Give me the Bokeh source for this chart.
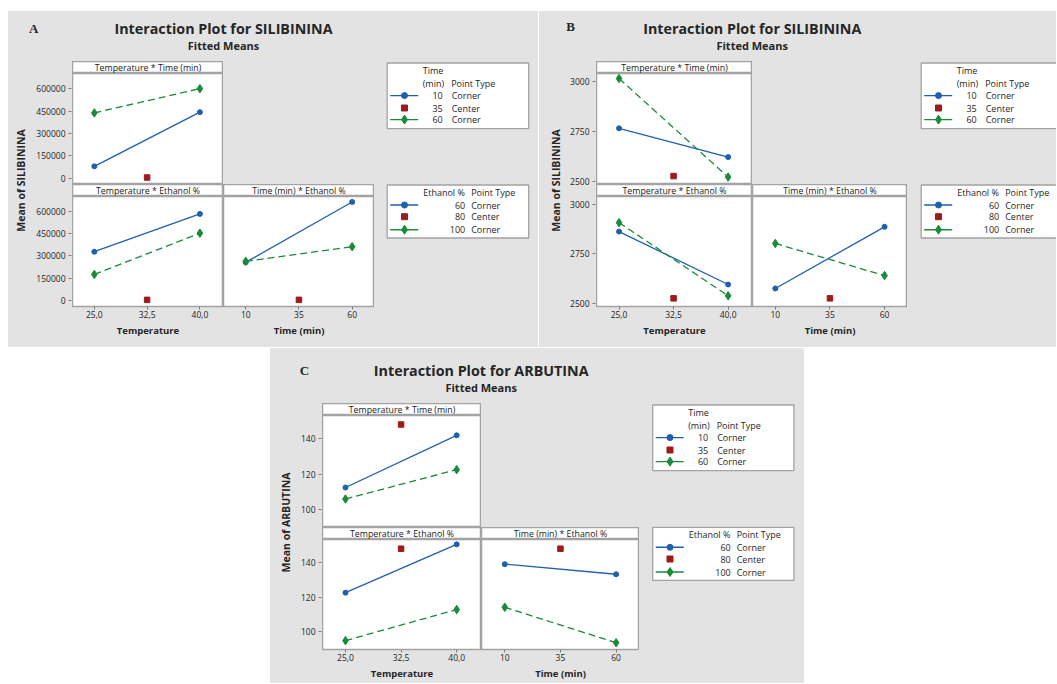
import math
from bokeh.plotting import figure
from bokeh.layouts import row, column
from bokeh.models import Range1d, FixedTicker, BasicTickFormatter, Label, Spacer
from bokeh.embed import file_html
from bokeh.resources import INLINE

# ---------------- factor levels ----------------
temperature_levels = [25.0, 40.0]
temperature_center = [32.5]
time_levels = [10, 60]
time_center = [35]
ethanol_levels = [60, 100]
ethanol_center = [80]
temperature_tick_labels = ["25,0", "32,5", "40,0"]
time_tick_labels = ["10", "35", "60"]
point_types = ["Corner", "Center", "Corner"]

# ---------------- A: SILIBININA (fitted means) ----------------
a_temp_time_10 = [79000, 444000]
a_temp_time_60 = [439000, 602000]
a_temp_time_35 = [4000]
a_temp_eth_60 = [329000, 586000]
a_temp_eth_100 = [175000, 455000]
a_temp_eth_80 = [2000]
a_time_eth_60 = [257000, 667000]
a_time_eth_100 = [264000, 363000]
a_time_eth_80 = [2000]
a_yticks = [0, 150000, 300000, 450000, 600000]
a_yrange = [-43000, 704000]

# ---------------- B: SILIBININA (fitted means) ----------------
b_temp_time_10 = [2764, 2620]
b_temp_time_60 = [3013, 2520]
b_temp_time_35 = [2525]
b_temp_eth_60 = [2861, 2594]
b_temp_eth_100 = [2906, 2537]
b_temp_eth_80 = [2524]
b_time_eth_60 = [2574, 2885]
b_time_eth_100 = [2801, 2639]
b_time_eth_80 = [2524]
b_yticks = [2500, 2750, 3000]
b_yrange = [2483, 3038]

# ---------------- C: ARBUTINA (fitted means) ----------------
c_temp_time_10 = [112.4, 141.9]
c_temp_time_60 = [105.9, 122.5]
c_temp_time_35 = [148.0]
c_temp_eth_60 = [122.5, 150.3]
c_temp_eth_100 = [94.9, 112.8]
c_temp_eth_80 = [147.8]
c_time_eth_60 = [138.9, 133.1]
c_time_eth_100 = [114.1, 93.7]
c_time_eth_80 = [147.8]
c_yticks = [100, 120, 140]
c_yrange = [89.8, 153.1]

temp_xrange = [21.9, 43.35]
time_xrange = [-0.45, 70.5]

# ---------------- styles ----------------
GRAY = "#e3e3e3"
FRAME = "#a3a3a3"
TEXT = "#262626"
BLUE = "#1f5fae"
GREEN = "#1b8a3a"
RED = "#9e1b1b"
FONT = "Open Sans"
BG = {"background-color": GRAY}


def deco(w, h, fill=GRAY):
    f = figure(width=w, height=h, x_range=Range1d(0, w), y_range=Range1d(h, 0),
               output_backend="svg", toolbar_location=None, min_border=0,
               x_axis_location=None, y_axis_location=None, title_location=None)
    f.border_fill_color = fill
    f.background_fill_color = fill
    f.outline_line_color = None
    f.grid.visible = False
    return f


def lab(f, x, y, s, size, align="left", bold=False, font=FONT, angle=0.0, color=TEXT):
    f.add_layout(Label(x=x, y=y, text=s, text_font=font, text_font_size=size,
                       text_font_style="bold" if bold else "normal",
                       text_align=align, text_baseline="middle", angle=angle,
                       text_color=color))


def style_axis(ax):
    ax.axis_line_color = None
    ax.major_tick_line_color = "#7a7a7a"
    ax.major_tick_out = 3
    ax.major_tick_in = 0
    ax.minor_tick_out = 0
    ax.minor_tick_in = 0
    ax.major_label_text_font = FONT
    ax.major_label_text_font_size = "8.5px"
    ax.major_label_text_color = TEXT


def header(w, h, text):
    f = figure(width=w, height=h, x_range=Range1d(0, 1), y_range=Range1d(0, 1),
               output_backend="svg", toolbar_location=None, min_border=0,
               x_axis_location=None, y_axis_location=None, title_location=None)
    f.border_fill_color = GRAY
    f.background_fill_color = "white"
    f.outline_line_color = FRAME
    f.outline_line_width = 1.5
    f.grid.visible = False
    f.add_layout(Label(x=0.5, y=0.5, text=text, text_font=FONT, text_font_size="8.8px",
                       text_align="center", text_baseline="middle", text_color="#1a1a1a"))
    return f


def yaxis_fig(border, height, bottom, lo, hi, yticks):
    f = figure(width=border + 1, height=height, x_range=Range1d(0, 1), y_range=Range1d(lo, hi),
               output_backend="svg", toolbar_location=None,
               min_border_left=border, min_border_right=0, min_border_top=0, min_border_bottom=bottom,
               x_axis_location=None, y_axis_location="left", title_location=None)
    f.border_fill_color = GRAY
    f.background_fill_color = GRAY
    f.outline_line_color = None
    f.grid.visible = False
    style_axis(f.yaxis[0])
    f.yaxis.ticker = FixedTicker(ticks=yticks)
    f.yaxis.formatter = BasicTickFormatter(use_scientific=False)
    f.yaxis.major_label_standoff = 3
    return f


def interaction(w, h, bottom, xr, yr, show_x, xticks, xlabels, x_lo_hi, s_low, s_high, x_mid, s_mid):
    f = figure(width=w, height=h, x_range=Range1d(*xr), y_range=Range1d(*yr),
               output_backend="svg", toolbar_location=None,
               min_border_left=0, min_border_right=0, min_border_top=0, min_border_bottom=bottom,
               x_axis_location="below" if show_x else None,
               y_axis_location=None, title_location=None)
    f.border_fill_color = GRAY
    f.background_fill_color = "white"
    f.outline_line_color = FRAME
    f.outline_line_width = 1.5
    f.grid.visible = False
    if show_x:
        style_axis(f.xaxis[0])
        f.xaxis.ticker = FixedTicker(ticks=xticks)
        f.xaxis.major_label_overrides = {float(t): s for t, s in zip(xticks, xlabels)}
        f.xaxis.major_label_standoff = 1
    # low level (blue, solid), high level (green, dashed), center point (red)
    f.line(x=x_lo_hi, y=s_low, line_color=BLUE, line_width=1.3)
    f.scatter(x=x_lo_hi, y=s_low, marker="circle", size=5, fill_color=BLUE, line_color=BLUE)
    f.line(x=x_lo_hi, y=s_high, line_color=GREEN, line_width=1.3, line_dash="7 4")
    f.scatter(x=x_lo_hi, y=s_high, marker="diamond", size=8.5, fill_color=GREEN, line_color=GREEN)
    f.scatter(x=x_mid, y=s_mid, marker="square", size=5.5, fill_color=RED, line_color=RED)
    return f


def draw_legend(f, bx, bw, top, title_lines, levels, second):
    h = 53 if second else 65.6
    f.quad(left=[bx], right=[bx + bw], top=[top], bottom=[top + h],
           fill_color="white", line_color=FRAME, line_width=1.3)
    if second:
        lab(f, bx + 36, top + 7.6, title_lines[0], "9px")
        lab(f, bx + 84, top + 7.6, "Point Type", "9px")
        num_r, txt_l = bx + 78, bx + 84
        rows = [top + 20, top + 31.7, top + 44.7]
    else:
        lab(f, bx + 35.5, top + 7.6, title_lines[0], "9px")
        lab(f, bx + 35.5, top + 20.3, title_lines[1], "9px")
        lab(f, bx + 64, top + 20.3, "Point Type", "9px")
        num_r, txt_l = bx + 55.5, bx + 64.5
        rows = [top + 32.6, top + 45, top + 56.6]
    x0, x1, xm = bx + 3, bx + 31, bx + 17.3
    for i, (lev, pt) in enumerate(zip(levels, point_types)):
        y = rows[i]
        lab(f, num_r, y, str(lev), "9px", align="right")
        lab(f, txt_l, y, pt, "9px")
    f.line(x=[x0, x1], y=[rows[0], rows[0]], line_color=BLUE, line_width=1.4)
    f.scatter(x=[xm], y=[rows[0]], marker="circle", size=6, fill_color=BLUE, line_color=BLUE)
    f.scatter(x=[xm], y=[rows[1]], marker="square", size=6, fill_color=RED, line_color=RED)
    f.line(x=[x0, x1], y=[rows[2], rows[2]], line_color=GREEN, line_width=1.4)
    f.scatter(x=[xm], y=[rows[2]], marker="diamond", size=9, fill_color=GREEN, line_color=GREEN)


def panel(cfg, d):
    W, H, L, sw1, sw2, T = cfg["W"], cfg["H"], cfg["L"], cfg["sw1"], cfg["sw2"], cfg["T"]
    hh1, ph1, hh2, ph2 = cfg["hh1"], cfg["ph1"], cfg["hh2"], cfg["ph2"]
    Y = 25
    mb = L - Y - 1
    tick_h = 18
    ext = 5
    B = H - T - hh1 - ph1 - hh2 - ph2
    strip_h = B - tick_h

    t = deco(W, T)
    lab(t, cfg["letter_x"], cfg["letter_y"], cfg["letter"], "13px", bold=True, font="Liberation Serif")
    lab(t, cfg["title_x"], cfg["title_y"], cfg["title"], "14.3px", align="center", bold=True)
    lab(t, cfg["title_x"], cfg["sub_y"], "Fitted Means", "11px", align="center", bold=True)

    yl = deco(Y, H - T)
    lab(yl, cfg["ylab_x"], cfg["ylab_y"], cfg["ylabel"], "10.5px", align="center", bold=True,
        angle=math.pi / 2)

    ylo, yhi = d["yr"]
    span = yhi - ylo
    ya_top = yaxis_fig(mb, hh1 + ph1 + ext, 0,
                       ylo - ext * span / ph1, yhi + hh1 * span / ph1, d["yt"])
    ya_bot = yaxis_fig(mb, hh2 - ext + ph2 + tick_h + strip_h, tick_h + strip_h,
                       ylo, yhi + (hh2 - ext) * span / ph2, d["yt"])

    temp_ticks = [temperature_levels[0], temperature_center[0], temperature_levels[1]]
    time_ticks = [time_levels[0], time_center[0], time_levels[1]]

    h_tl = header(sw1, hh1, "Temperature * Time (min)")
    p_tl = interaction(sw1, ph1, 0, temp_xrange, d["yr"], False, temp_ticks,
                       temperature_tick_labels, temperature_levels, d["tt10"], d["tt60"],
                       temperature_center, d["tt35"])
    h_bl = header(sw1, hh2, "Temperature * Ethanol %")
    p_bl = interaction(sw1, ph2 + tick_h, tick_h, temp_xrange, d["yr"], True, temp_ticks,
                       temperature_tick_labels, temperature_levels, d["te60"], d["te100"],
                       temperature_center, d["te80"])
    s_l = deco(sw1, strip_h)
    lab(s_l, sw1 / 2, cfg["xlab_y"], "Temperature", "9.5px", align="center", bold=True)

    blank = deco(sw2, hh1 + ph1)
    h_br = header(sw2, hh2, "Time (min) * Ethanol %")
    p_br = interaction(sw2, ph2 + tick_h, tick_h, time_xrange, d["yr"], True, time_ticks,
                       time_tick_labels, time_levels, d["me60"], d["me100"],
                       time_center, d["me80"])
    s_r = deco(sw2, strip_h)
    lab(s_r, sw2 / 2, cfg["xlab_y"], "Time (min)", "9.5px", align="center", bold=True)

    lw = W - L - sw1 - sw2
    lg = deco(lw, H - T)
    draw_legend(lg, cfg["leg_x"], cfg["leg_w"], cfg["leg_t1"], ["Time", "(min)"],
                [time_levels[0], time_center[0], time_levels[1]], False)
    draw_legend(lg, cfg["leg_x"], cfg["leg_w"], cfg["leg_t2"], ["Ethanol %"],
                [ethanol_levels[0], ethanol_center[0], ethanol_levels[1]], True)

    return column(t, row(yl, column(ya_top, ya_bot, styles=BG),
                         column(h_tl, p_tl, h_bl, p_bl, s_l, styles=BG),
                         column(blank, h_br, p_br, s_r, styles=BG), lg, styles=BG),
                  styles=BG)


cfg_a = dict(W=530, H=336, L=64, sw1=151, sw2=151, T=50, hh1=12, ph1=111, hh2=12, ph2=110,
             letter="A", letter_x=20.5, letter_y=17, title="Interaction Plot for SILIBININA",
             title_x=215, title_y=17, sub_y=33.5, ylabel="Mean of SILIBININA", ylab_x=12.7,
             ylab_y=119, xlab_y=6, leg_x=12.7, leg_w=141.5, leg_t1=1.5, leg_t2=123.5)
cfg_b = dict(W=517, H=336, L=57, sw1=156, sw2=155, T=50, hh1=12, ph1=111, hh2=12, ph2=110,
             letter="B", letter_x=26.7, letter_y=14.5, title="Interaction Plot for SILIBININA",
             title_x=212.7, title_y=17, sub_y=33.5, ylabel="Mean of SILIBININA", ylab_x=16,
             ylab_y=119, xlab_y=6, leg_x=13.7, leg_w=200, leg_t1=1.5, leg_t2=123.5)
cfg_c = dict(W=534, H=335, L=52, sw1=159, sw2=158, T=55, hh1=12, ph1=112, hh2=12, ph2=110,
             letter="C", letter_x=29.3, letter_y=22, title="Interaction Plot for ARBUTINA",
             title_x=210.7, title_y=21.5, sub_y=38.5, ylabel="Mean of ARBUTINA", ylab_x=15.5,
             ylab_y=119, xlab_y=5.5, leg_x=13.2, leg_w=141.2, leg_t1=1.5, leg_t2=123.8)

data_a = dict(yr=a_yrange, yt=a_yticks, tt10=a_temp_time_10, tt60=a_temp_time_60, tt35=a_temp_time_35,
              te60=a_temp_eth_60, te100=a_temp_eth_100, te80=a_temp_eth_80,
              me60=a_time_eth_60, me100=a_time_eth_100, me80=a_time_eth_80)
data_b = dict(yr=b_yrange, yt=b_yticks, tt10=b_temp_time_10, tt60=b_temp_time_60, tt35=b_temp_time_35,
              te60=b_temp_eth_60, te100=b_temp_eth_100, te80=b_temp_eth_80,
              me60=b_time_eth_60, me100=b_time_eth_100, me80=b_time_eth_80)
data_c = dict(yr=c_yrange, yt=c_yticks, tt10=c_temp_time_10, tt60=c_temp_time_60, tt35=c_temp_time_35,
              te60=c_temp_eth_60, te100=c_temp_eth_100, te80=c_temp_eth_80,
              me60=c_time_eth_60, me100=c_time_eth_100, me80=c_time_eth_80)

pa = panel(cfg_a, data_a)
pb = panel(cfg_b, data_b)
pc = panel(cfg_c, data_c)

page = column(Spacer(height=11),
              row(Spacer(width=8), pa, Spacer(width=1), pb),
              Spacer(height=1),
              row(Spacer(width=270), pc))

open("out.html", "w").write(file_html(page, INLINE))
